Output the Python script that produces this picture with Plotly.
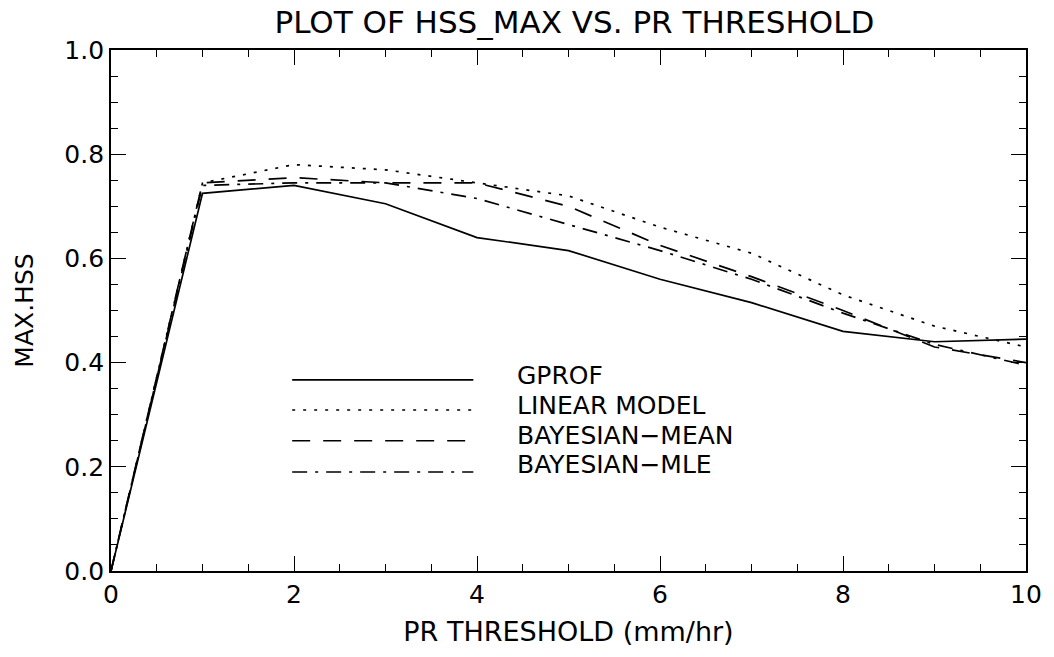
import plotly.graph_objects as go

thresholds = [0, 1, 2, 3, 4, 5, 6, 7, 8, 9, 10]
gprof = [0.0, 0.725, 0.74, 0.705, 0.64, 0.615, 0.56, 0.515, 0.46, 0.44, 0.445]
linear_model = [0.0, 0.745, 0.78, 0.77, 0.745, 0.72, 0.66, 0.61, 0.53, 0.47, 0.43]
bayes_mean = [0.0, 0.745, 0.755, 0.745, 0.745, 0.70, 0.625, 0.565, 0.50, 0.43, 0.40]
bayes_mle = [0.0, 0.74, 0.745, 0.745, 0.715, 0.665, 0.615, 0.56, 0.495, 0.435, 0.395]

series_names = ["GPROF", "LINEAR MODEL", "BAYESIAN\u2212MEAN", "BAYESIAN\u2212MLE"]
series_vals = [gprof, linear_model, bayes_mean, bayes_mle]
dashes = ["solid", "3px,8px", "18px,13px", "15px,8px,3px,8px"]

FONT = "DejaVu Sans"

fig = go.Figure()
for name, vals, d in zip(series_names, series_vals, dashes):
    fig.add_trace(go.Scatter(x=thresholds, y=vals, mode="lines", name=name,
                             line=dict(color="black", width=1.7, dash=d),
                             showlegend=False))

# custom legend (shapes + annotations in paper coords)
legend_line_y = [0.367, 0.309, 0.250, 0.190]
legend_text_y = [0.376, 0.318, 0.261, 0.205]
for name, d, ly, ty in zip(series_names, dashes, legend_line_y, legend_text_y):
    fig.add_shape(type="line", xref="paper", yref="paper",
                  x0=0.198, x1=0.396, y0=ly, y1=ly,
                  line=dict(color="black", width=1.7, dash=d))
    fig.add_annotation(xref="paper", yref="paper", x=0.442, y=ty, text=name,
                       showarrow=False, xanchor="left", yanchor="middle",
                       font=dict(family=FONT, size=25, color="black"))

axis_common = dict(showline=True, linecolor="black", linewidth=1.8, mirror="ticks",
                   ticks="inside", ticklen=15, tickwidth=1.3, tickcolor="black",
                   showgrid=False, zeroline=False,
                   tickfont=dict(family=FONT, size=25, color="black"))

fig.update_xaxes(range=[0, 10], dtick=2, tick0=0,
                 minor=dict(dtick=0.5, ticks="inside", ticklen=7, tickcolor="black", showgrid=False),
                 title=dict(text="PR THRESHOLD (mm/hr)", font=dict(family=FONT, size=27, color="black"), standoff=14),
                 **axis_common)
fig.update_yaxes(range=[0, 1.0], dtick=0.2, tick0=0, tickformat=".1f",
                 minor=dict(dtick=0.05, ticks="inside", ticklen=7, tickcolor="black", showgrid=False),
                 title=dict(text="MAX.HSS", font=dict(family=FONT, size=25, color="black"), standoff=24),
                 **axis_common)

fig.update_layout(
    width=1054, height=657,
    margin=dict(l=111, r=18, t=50, b=86),
    paper_bgcolor="white", plot_bgcolor="white",
    title=dict(text="PLOT OF HSS_MAX VS. PR THRESHOLD", x=0.545, xanchor="center",
               y=1 - 22 / 657, yanchor="middle",
               font=dict(family=FONT, size=31, color="black")),
)

fig.write_html("out.html", config={"displayModeBar": False},
               post_script="document.body.style.margin='0';document.body.style.overflow='hidden';")
